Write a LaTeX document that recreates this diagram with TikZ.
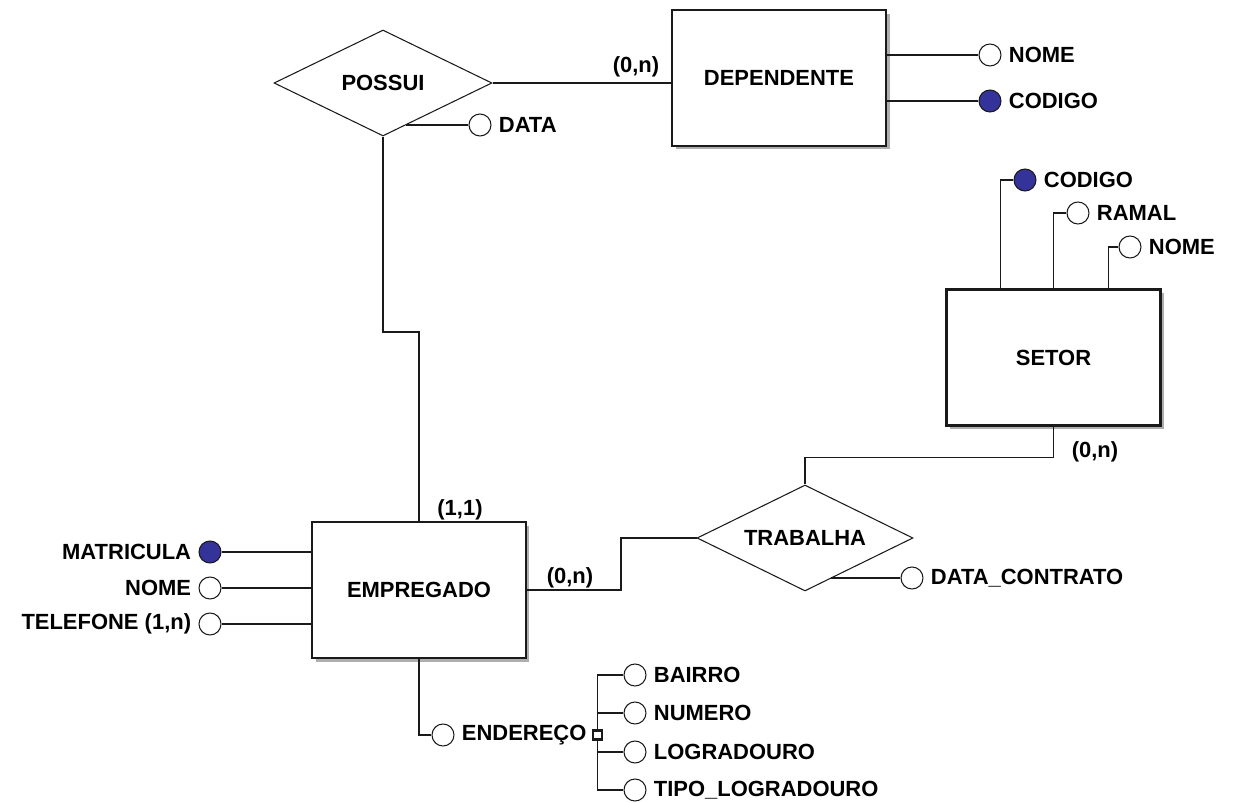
\documentclass[tikz,border=0pt]{standalone}
\usepackage{fontspec}
\setmainfont{Liberation Sans}
\usepackage{tikz}
\usetikzlibrary{positioning,calc,shapes.geometric,shadows}
\definecolor{keyc}{HTML}{333399}
\definecolor{edge}{HTML}{1A1A1A}
\tikzset{
  ent/.style={draw=edge, line width=1.3pt, rectangle, fill=white,
              minimum width=4.28cm, minimum height=2.72cm,
              font=\bfseries\fontsize{12.5}{14}\selectfont,
              drop shadow={shadow xshift=2pt, shadow yshift=-2pt,
                           fill=black!45, opacity=.7}},
  rel/.style={draw=edge, line width=0.6pt, diamond, aspect=2.05, inner sep=0pt,
              minimum width=4.36cm, minimum height=2.12cm, fill=white,
              font=\bfseries\fontsize{12.5}{14}\selectfont},
  attr/.style={circle, draw=edge, line width=0.6pt, fill=white,
               minimum size=0.44cm, inner sep=0pt},
  keyattr/.style={attr, fill=keyc},
  atxt/.style={font=\bfseries\fontsize{12.5}{14}\selectfont, inner sep=1pt},
  card/.style={font=\bfseries\fontsize{12.5}{14}\selectfont, inner sep=1pt},
  ln/.style={draw=edge, line width=0.9pt},
}
\begin{document}
\begin{tikzpicture}[x=0.02cm, y=-0.02cm]
  \useasboundingbox (0,0) rectangle (1234,803);

  % entidades
  \node[ent] (dependente) at (779,78) {DEPENDENTE};
  \node[ent] (setor) at (1053.5,357.5) {SETOR};
  \node[ent] (empregado) at (419,590) {EMPREGADO};

  % relacionamentos
  \node[rel] (possui) at (383,83) {POSSUI};
  \node[rel, minimum width=4.32cm] (trabalha) at (805,538) {TRABALHA};

  % POSSUI
  \draw[ln] (possui.east) -- (possui.east -| dependente.west);
  \node[card] (c1) at (636,67) {(0,n)};
  \coordinate (pbend) at (419,332);
  \draw[ln] (possui.south) |- (pbend) -- (empregado.north);
  \node[card] (c2) at (460,510) {(1,1)};
  \node[attr] (pdata) at (480,125) {};
  \node[atxt, right=3pt of pdata] (pdatat) {DATA};
  \draw[ln] (pdata.west) -- (pdata.west -| possui.-62);

  % TRABALHA
  \draw[ln] (empregado.east) -- ++(94,0) |- (trabalha.west);
  \node[card] (c3) at (570,578) {(0,n)};
  \draw[ln] (trabalha.north) -- ++(0,-27) -| (setor.south);
  \node[card] (c4) at (1095,452) {(0,n)};
  \node[attr] (tdata) at (912,578) {};
  \node[atxt, right=3pt of tdata] (tdatat) {DATA\_CONTRATO};
  \draw[ln] (tdata.west) -- (tdata.west -| trabalha.-57);

  % atributos de DEPENDENTE
  \node[attr] (dnome) at (990,55) {};
  \node[atxt, right=3pt of dnome] (dnomet) {NOME};
  \node[keyattr] (dcod) at (990,101) {};
  \node[atxt, right=3pt of dcod] (dcodt) {CODIGO};
  \draw[ln] (dnome.west) -- (dnome.west -| dependente.east);
  \draw[ln] (dcod.west) -- (dcod.west -| dependente.east);

  % atributos de SETOR
  \node[keyattr] (scod) at (1025,180) {};
  \node[atxt, right=3pt of scod] (scodt) {CODIGO};
  \node[attr] (sramal) at (1078,213) {};
  \node[atxt, right=3pt of sramal] (sramalt) {RAMAL};
  \node[attr] (snome) at (1130,247) {};
  \node[atxt, right=3pt of snome] (snomet) {NOME};
  \draw[ln] (scod.west) -| ($(setor.north)+(-53,0)$);
  \draw[ln] (sramal.west) -| (setor.north);
  \draw[ln] (snome.west) -| ($(setor.north)+(55,0)$);

  % atributos de EMPREGADO
  \node[keyattr] (emat) at (210,552) {};
  \node[atxt, left=3pt of emat] (ematt) {MATRICULA};
  \node[attr] (enome) at (210,588) {};
  \node[atxt, left=3pt of enome] (enomet) {NOME};
  \node[attr] (etel) at (210,624) {};
  \node[atxt, left=3pt of etel] (etelt) {TELEFONE (1,n)};
  \foreach \a in {emat,enome,etel}
    \draw[ln] (\a.east) -- (\a.east -| empregado.west);

  % endereco (composto)
  \node[attr] (eend) at (443,735) {};
  \node[atxt, right=3pt of eend] (eendt) {ENDEREÇO};
  \draw[ln] (empregado.south) |- (eend.west);
  \node[draw=edge, line width=1.3pt, fill=white, minimum size=5pt,
        inner sep=0pt, right=2pt of eendt] (ejnc) {};
  \node[attr] (ebai) at (635,675) {};
  \node[atxt, right=3pt of ebai] (ebait) {BAIRRO};
  \node[attr] (enum) at (635,713) {};
  \node[atxt, right=3pt of enum] (enumt) {NUMERO};
  \node[attr] (elog) at (635,752) {};
  \node[atxt, right=3pt of elog] (elogt) {LOGRADOURO};
  \node[attr] (etip) at (635,790) {};
  \node[atxt, right=3pt of etip] (etipt) {TIPO\_LOGRADOURO};
  \draw[ln] (ebai.west) -| (ejnc.north);
  \draw[ln] (etip.west) -| (ejnc.south);
  \draw[ln] (enum.west) -- (enum.west -| ejnc);
  \draw[ln] (elog.west) -- (elog.west -| ejnc);
\end{tikzpicture}
\end{document}
